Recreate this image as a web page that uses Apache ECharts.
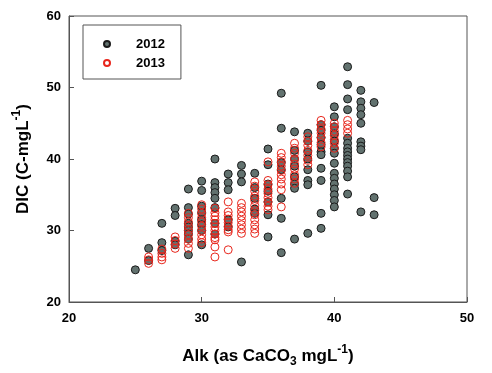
<!DOCTYPE html>
<html>
<head>
<meta charset="utf-8">
<script src="https://cdn.jsdelivr.net/npm/echarts@6/dist/echarts.min.js"></script>
<style>html,body{margin:0;padding:0;background:#fff}#c{width:492px;height:373px}</style>
</head>
<body>
<div id="c"></div>
<script>
const alkValues = [25,26,27,28,29,30,31,32,33,34,35,36,37,38,39,40,41,42,43];
const dic2012 = [
  [24.5],
  [27.5, 25.8],
  [31.0, 28.3, 27.2],
  [33.1, 32.1, 28.5, 28.0],
  [35.8, 33.2, 32.3, 31.0, 30.5, 30.0, 29.5, 28.8, 26.6],
  [36.9, 35.6, 33.4, 32.5, 31.5, 30.8, 30.0, 28.0],
  [40.0, 36.7, 36.0, 35.3, 34.5, 33.2, 31.0, 29.5],
  [37.9, 36.7, 35.7, 31.5, 30.5],
  [39.1, 37.9, 36.8, 25.6],
  [38.0, 36.0, 34.5, 33.0, 32.4],
  [41.4, 39.2, 36.5, 35.5, 34.0, 32.2, 29.1],
  [49.2, 44.3, 39.5, 38.5, 34.5, 31.7, 26.9],
  [43.8, 41.2, 40.0, 39.0, 37.5, 36.5, 35.9, 28.8],
  [43.6, 42.5, 41.0, 40.0, 38.5, 37.0, 36.4, 29.6],
  [50.3, 44.8, 44.0, 43.0, 42.0, 41.0, 40.6, 38.7, 37.0, 32.4, 30.3],
  [47.3, 45.9, 44.5, 43.5, 42.5, 41.5, 40.8, 39.4, 38.0, 37.3, 36.5, 35.8, 35.0, 34.2, 33.3],
  [52.9, 50.4, 48.4, 46.9, 42.9, 42.2, 41.5, 41.0, 40.5, 40.0, 39.5, 39.0, 38.3, 37.5, 35.1],
  [49.6, 48.0, 47.1, 46.2, 45.0, 42.4, 41.8, 41.3, 32.6],
  [47.9, 34.6, 32.2]
];
const dic2013 = [
  [],
  [26.3, 25.9, 25.4],
  [27.4, 26.8, 26.3, 25.9],
  [29.1, 28.6, 28.1, 27.5],
  [32.4, 31.8, 31.2, 30.6, 30.0, 29.4, 28.8, 28.2, 27.5],
  [33.6, 33.0, 32.4, 31.8, 31.2, 30.6, 30.0, 29.4, 28.8, 28.3],
  [33.1, 32.5, 32.0, 31.5, 31.0, 30.5, 30.0, 29.5, 29.0, 28.7, 27.7, 26.3],
  [34.0, 32.6, 32.1, 31.6, 31.1, 30.6, 30.1, 29.8, 27.3],
  [33.8, 33.2, 32.6, 32.0, 31.4, 30.8, 30.2, 29.6],
  [36.8, 36.2, 35.5, 34.8, 34.2, 33.5, 32.8, 32.2, 31.5, 30.8, 30.2, 29.6],
  [39.6, 37.0, 36.4, 35.8, 35.2, 34.6, 34.0, 33.4, 32.9],
  [40.8, 40.2, 39.6, 39.0, 38.4, 37.8, 37.2, 36.5, 35.7, 33.3],
  [42.2, 41.5, 40.8, 40.0, 39.3, 38.6, 37.8, 37.2, 36.6],
  [43.1, 42.5, 41.9, 41.2, 40.5, 39.8, 39.2],
  [45.4, 44.8, 44.2, 43.6, 43.0, 42.3, 41.7],
  [45.0, 44.5, 43.9, 43.3, 42.7, 42.2, 41.5],
  [45.4, 44.8, 44.2, 43.6],
  [],
  []
];
const seriesNames = ['2012', '2013'];
const xTicks = [20, 30, 40, 50];
const yTicks = [20, 30, 40, 50, 60];

function toPoints(cols) {
  const pts = [];
  cols.forEach((ys, i) => ys.forEach(y => pts.push([alkValues[i], y])));
  return pts;
}

const FONT = '"Liberation Sans", Arial, sans-serif';
const chart = echarts.init(document.getElementById('c'));
const axisTitleRich = {
  b: { fontSize: 17, fontWeight: 'bold', fontFamily: FONT, color: '#000', lineHeight: 24 },
  sub: { fontSize: 12, fontWeight: 'bold', fontFamily: FONT, color: '#000', verticalAlign: 'bottom', lineHeight: 24 },
  sup: { fontSize: 12, fontWeight: 'bold', fontFamily: FONT, color: '#000', verticalAlign: 'top', lineHeight: 24 }
};
chart.setOption({
  animation: false,
  backgroundColor: '#fff',
  grid: { left: 69, right: 25, top: 16, bottom: 71, show: true, borderColor: '#555', borderWidth: 1 },
  legend: {
    left: 83, top: 25,
    orient: 'vertical',
    data: seriesNames,
    padding: [11, 16, 8, 20],
    itemGap: 3,
    itemWidth: 6, itemHeight: 6,
    borderColor: '#555', borderWidth: 1,
    textStyle: { fontSize: 13, fontWeight: 'bold', fontFamily: FONT, color: '#000', lineHeight: 16, padding: [0, 0, 0, 21] }
  },
  xAxis: {
    type: 'value', min: xTicks[0], max: xTicks[xTicks.length - 1], interval: 10,
    name: '{b|Alk (as CaCO}{sub|3}{b| mgL}{sup|-1}{b|)}',
    nameLocation: 'middle', nameGap: 42,
    nameTextStyle: { rich: axisTitleRich },
    axisLine: { show: true, lineStyle: { color: '#555', width: 1 } },
    axisTick: { show: true, inside: true, length: 5, lineStyle: { color: '#555' } },
    axisLabel: { margin: 10, fontSize: 13, fontWeight: 'bold', fontFamily: FONT, color: '#000' },
    splitLine: { show: false }
  },
  yAxis: {
    type: 'value', min: yTicks[0], max: yTicks[yTicks.length - 1], interval: 10,
    name: '{b|DIC (C-mgL}{sup|-1}{b|)}',
    nameLocation: 'middle', nameGap: 34, nameRotate: 90,
    nameTextStyle: { rich: axisTitleRich },
    axisLine: { show: true, lineStyle: { color: '#555', width: 1 } },
    axisTick: { show: true, inside: true, length: 5, lineStyle: { color: '#555' } },
    axisLabel: { margin: 8, fontSize: 13, fontWeight: 'bold', fontFamily: FONT, color: '#000' },
    splitLine: { show: false }
  },
  series: [
    {
      name: seriesNames[0], type: 'scatter', symbol: 'circle', symbolSize: 8,
      itemStyle: { color: '#62726f', borderColor: '#1a1a1a', borderWidth: 1, opacity: 1 },
      data: toPoints(dic2012)
    },
    {
      name: seriesNames[1], type: 'scatter', symbol: 'circle', symbolSize: 8,
      itemStyle: { color: 'rgba(255,255,255,0)', borderColor: '#e8261c', borderWidth: 1, opacity: 1 },
      data: toPoints(dic2013)
    }
  ]
});
</script>
</body>
</html>
